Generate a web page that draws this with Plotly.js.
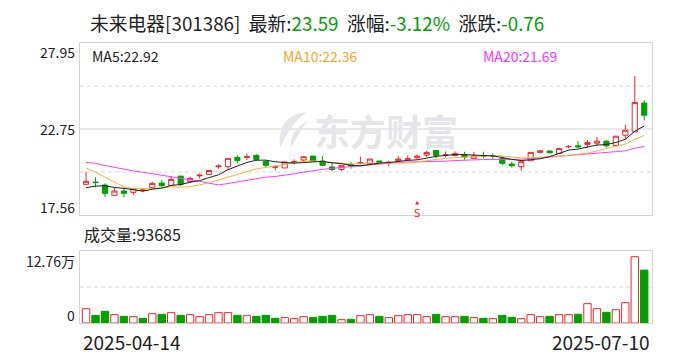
<!DOCTYPE html>
<html><head><meta charset="utf-8">
<script src="https://cdn.plot.ly/plotly-3.0.1.min.js"></script>
<style>html,body{margin:0;padding:0;background:#fff;}#chart{width:688px;height:360px;}</style>
</head><body><div id="chart"></div>
<script>
// ---- data ----
const dates = [
 '2025-04-14','2025-04-15','2025-04-16','2025-04-17','2025-04-18','2025-04-21','2025-04-22','2025-04-23','2025-04-24','2025-04-25',
 '2025-04-28','2025-04-29','2025-04-30','2025-05-06','2025-05-07','2025-05-08','2025-05-09','2025-05-12','2025-05-13','2025-05-14',
 '2025-05-15','2025-05-16','2025-05-19','2025-05-20','2025-05-21','2025-05-22','2025-05-23','2025-05-26','2025-05-27','2025-05-28',
 '2025-05-29','2025-05-30','2025-06-03','2025-06-04','2025-06-05','2025-06-06','2025-06-09','2025-06-10','2025-06-11','2025-06-12',
 '2025-06-13','2025-06-16','2025-06-17','2025-06-18','2025-06-19','2025-06-20','2025-06-23','2025-06-24','2025-06-25','2025-06-26',
 '2025-06-27','2025-06-30','2025-07-01','2025-07-02','2025-07-03','2025-07-04','2025-07-07','2025-07-08','2025-07-09','2025-07-10'];
const open = [19.41,19.55,19.37,18.75,19.01,18.93,19.06,19.21,19.49,19.35,
 19.91,19.59,19.93,20.01,20.48,20.48,21.04,21.04,21.16,20.80,
 20.45,20.40,20.74,20.88,21.12,20.82,20.46,20.31,20.62,20.70,
 20.66,20.82,20.72,20.84,20.93,21.02,21.18,21.46,21.19,21.16,
 21.20,20.98,21.13,21.14,20.98,20.64,20.48,20.84,21.34,21.42,
 21.28,21.68,21.74,21.82,21.90,22.02,21.76,22.38,22.58,24.32];
const high = [20.17,19.83,19.47,19.21,19.21,19.17,19.17,19.57,19.67,19.91,
 19.91,19.87,20.07,20.25,20.62,20.98,21.16,21.28,21.24,20.86,
 20.56,20.76,20.92,21.12,21.12,21.12,20.76,20.56,20.76,21.08,
 20.94,20.82,20.82,21.14,21.14,21.22,21.44,21.46,21.40,21.40,
 21.38,21.38,21.38,21.28,21.12,20.78,20.78,21.34,21.48,21.48,
 21.58,21.78,22.02,22.08,22.28,22.08,22.32,23.00,25.96,24.50];
const low = [19.40,19.23,18.63,18.75,18.63,18.77,18.93,19.21,19.23,19.35,
 19.31,19.51,19.77,20.01,20.36,20.34,20.72,20.88,20.84,20.46,
 20.24,20.40,20.62,20.72,20.82,20.52,20.21,20.21,20.36,20.62,
 20.66,20.72,20.48,20.74,20.82,20.92,21.06,21.00,21.04,21.10,
 20.90,20.98,20.98,20.92,20.58,20.42,20.23,20.84,21.28,21.28,
 21.28,21.58,21.62,21.64,21.72,21.64,21.76,22.12,22.58,23.27];
const close = [19.59,19.52,18.87,19.01,18.87,19.17,19.07,19.47,19.33,19.71,
 19.41,19.77,19.97,20.25,20.52,20.98,20.84,21.08,20.92,20.56,
 20.46,20.76,20.78,21.08,20.82,20.56,20.31,20.56,20.52,20.72,
 20.94,20.72,20.74,20.94,20.95,21.12,21.34,21.16,21.20,21.26,
 21.06,21.14,21.11,21.12,20.68,20.54,20.78,21.34,21.44,21.32,
 21.58,21.70,21.68,21.94,22.02,21.74,22.32,22.68,24.35,23.59];
const volume = [25400,13600,20700,14800,11800,11200,8300,16500,15400,18300,
 13600,14800,11200,14800,18300,18300,13600,13000,11800,13600,
 8300,9500,7700,11200,10000,11800,13600,5900,6500,13000,
 14800,11800,9500,13000,14800,14800,11200,15400,11200,11200,
 11800,9500,8300,7700,13600,10000,7700,14800,11200,11800,
 14800,14800,15400,34300,25400,18900,23600,36000,117500,93685];
// moving-average values before enough closes exist in the window
const ma5Head = [19.21,19.30,19.33,19.22];
const ma10Head = [20.40,20.15,19.85,19.55,19.25,19.15,19.13,19.15,19.20];
const ma20Head = [20.74,20.68,20.55,20.43,20.32,20.22,20.14,20.05,19.97,19.90,
 19.82,19.72,19.60,19.48,19.38,19.46,19.55,19.63,19.72];
const priceRange = [17.56, 27.95];
const priceTickLabels = ['27.95','22.75','17.56'];
const volMax = 127600;
const volTickLabels = ['12.76万','0'];
const maLabels = ['MA5:22.92','MA10:22.36','MA20:21.69'];
const titleName = '未来电器[301386]';
const quote = {last:'23.59', pct:'-3.12%', chg:'-0.76'};
const volumeLabel = '成交量:93685';
const signalIndex = 35; // "S" marker

// ---- styles ----
const RED = '#f0262b', GREEN = '#00a000';
const MA_COLORS = ['#222222', '#f7b13e', '#ff3cff'];
const FONT = 'Noto Sans CJK SC, Noto Sans, sans-serif';
const W = 688, H = 360, L = 80, R = 652, T = 43, B = 323;
const px = x => (x - L) / (R - L);
const py = y => (B - y) / (B - T);

function ma(n, head) {
  return close.map((c, i) => {
    if (i < n - 1) return head[i];
    let s = 0; for (let k = i - n + 1; k <= i; k++) s += close[k];
    return s / n;
  });
}
const volUp = close.map((c, i) => i === 0 ? c >= open[0] : c >= close[i - 1]);

const xr = [-0.64, 59.82];
const traces = [
  {type:'scatter', mode:'lines', x:dates, y:ma(20, ma20Head), xaxis:'x', yaxis:'y',
   line:{color:MA_COLORS[2], width:1}, hoverinfo:'skip'},
  {type:'scatter', mode:'lines', x:dates, y:ma(10, ma10Head), xaxis:'x', yaxis:'y',
   line:{color:MA_COLORS[1], width:1}, hoverinfo:'skip'},
  {type:'candlestick', x:dates, open:open, high:high, low:low, close:close, xaxis:'x', yaxis:'y',
   increasing:{line:{color:RED, width:1}, fillcolor:'#ffffff'},
   decreasing:{line:{color:GREEN, width:1}, fillcolor:GREEN},
   whiskerwidth:0, hoverinfo:'skip'},
  {type:'scatter', mode:'lines', x:dates, y:ma(5, ma5Head), xaxis:'x', yaxis:'y',
   line:{color:MA_COLORS[0], width:1}, hoverinfo:'skip'},
  {type:'bar', x:dates, y:volume, xaxis:'x2', yaxis:'y2',
   marker:{color:volUp.map(u => u ? '#ffffff' : GREEN),
           line:{color:volUp.map(u => u ? RED : GREEN), width:1}},
   hoverinfo:'skip'}
];

const axBase = {type:'category', range:xr, showgrid:false, zeroline:false, showticklabels:false,
  ticks:'', showline:true, mirror:true, linecolor:'#d4d4d4', linewidth:1, fixedrange:true};
const yBase = {showgrid:false, zeroline:false, showticklabels:false, ticks:'',
  showline:true, mirror:true, linecolor:'#d4d4d4', linewidth:1, fixedrange:true};
const span = priceRange[1] - priceRange[0];
const gridLine = (yv, yref, dash) => ({type:'line', xref:'x domain', x0:0, x1:1, yref:yref, y0:yv, y1:yv,
  line:{color: dash ? '#d8d8d8' : '#d4d4d4', width:1, dash: dash ? '4px,3px' : 'solid'}, layer:'below'});
const P = (x, y) => px(x).toFixed(4) + ',' + py(y).toFixed(4);
const shapes = [
  gridLine(priceRange[0] + span * 0.75, 'y', true),
  gridLine(priceRange[0] + span * 0.5, 'y', false),
  gridLine(priceRange[0] + span * 0.25, 'y', true),
  Object.assign(gridLine(volMax / 2, 'y2', true), {xref:'x2 domain'}),
  // watermark logo (leaf swoosh)
  {type:'path', xref:'paper', yref:'paper', layer:'below', line:{width:0}, fillcolor:'#e6e6ea',
   path:'M' + P(306,112) + ' Q' + P(276,116) + ' ' + P(280,148) + ' Q' + P(288,127) + ' ' + P(306,112) + ' Z'},
  {type:'path', xref:'paper', yref:'paper', layer:'below', line:{width:0}, fillcolor:'#e6e6ea',
   path:'M' + P(307,121) + ' Q' + P(289,131) + ' ' + P(291,148) + ' Q' + P(297,136) + ' ' + P(307,121) + ' Z'}
];

const txt = (text, x, y, size, color, xanchor, extra) => Object.assign({
  text:text, xref:'paper', yref:'paper', x:px(x), y:py(y), xanchor:xanchor || 'left', yanchor:'middle',
  showarrow:false, font:{family:FONT, size:size, color:color || '#222'}}, extra || {});
const g = s => '<span style="color:' + GREEN + '">' + s + '</span>';
const sp = '\u00a0\u00a0';
const annotations = [
  txt(titleName + sp + '最新:' + g(quote.last) + sp + '涨幅:' + g(quote.pct) + sp + '涨跌:' + g(quote.chg), 88, 22, 18.8),
  txt(maLabels[0], 90, 56, 14, '#222'),
  txt(maLabels[1], 281, 56, 14, '#f5a623'),
  txt(maLabels[2], 481, 56, 14, '#ff33ff'),
  txt(priceTickLabels[0], 77, 52, 14, '#222', 'right'),
  txt(priceTickLabels[1], 77, 129, 14, '#222', 'right'),
  txt(priceTickLabels[2], 77, 207, 14, '#222', 'right'),
  txt(volumeLabel, 82, 234, 16, '#222'),
  txt(volTickLabels[0], 77, 261, 14, '#222', 'right'),
  txt(volTickLabels[1], 77, 315, 14, '#222', 'right'),
  txt(dates[0], 81, 341, 19, '#222', 'left'),
  txt(dates[dates.length - 1], 652, 341, 19, '#222', 'right'),
  txt('<b>东方财富</b>', 386, 130, 36, '#e6e6ea', 'center'),
  {text:'<span style="font-size:5px">▲</span><br>S', xref:'x', yref:'paper', x:dates[signalIndex], y:py(209),
   xanchor:'center', yanchor:'middle', showarrow:false,
   font:{family:'DejaVu Sans', size:10, color:RED}}
];

const layout = {
  width:W, height:H, margin:{l:L, r:W - R, t:T, b:H - B, pad:0},
  paper_bgcolor:'#ffffff', plot_bgcolor:'rgba(0,0,0,0)', showlegend:false,
  boxgap:0.22, bargap:0.22, hovermode:false,
  xaxis:Object.assign({}, axBase, {anchor:'y', rangeslider:{visible:false}}),
  xaxis2:Object.assign({}, axBase, {anchor:'y2'}),
  yaxis:Object.assign({}, yBase, {domain:[py(215), 1], range:priceRange}),
  yaxis2:Object.assign({}, yBase, {domain:[0, py(251)], range:[0, volMax]}),
  shapes:shapes, annotations:annotations
};
Plotly.newPlot('chart', traces, layout, {staticPlot:true, displayModeBar:false});
</script></body></html>
